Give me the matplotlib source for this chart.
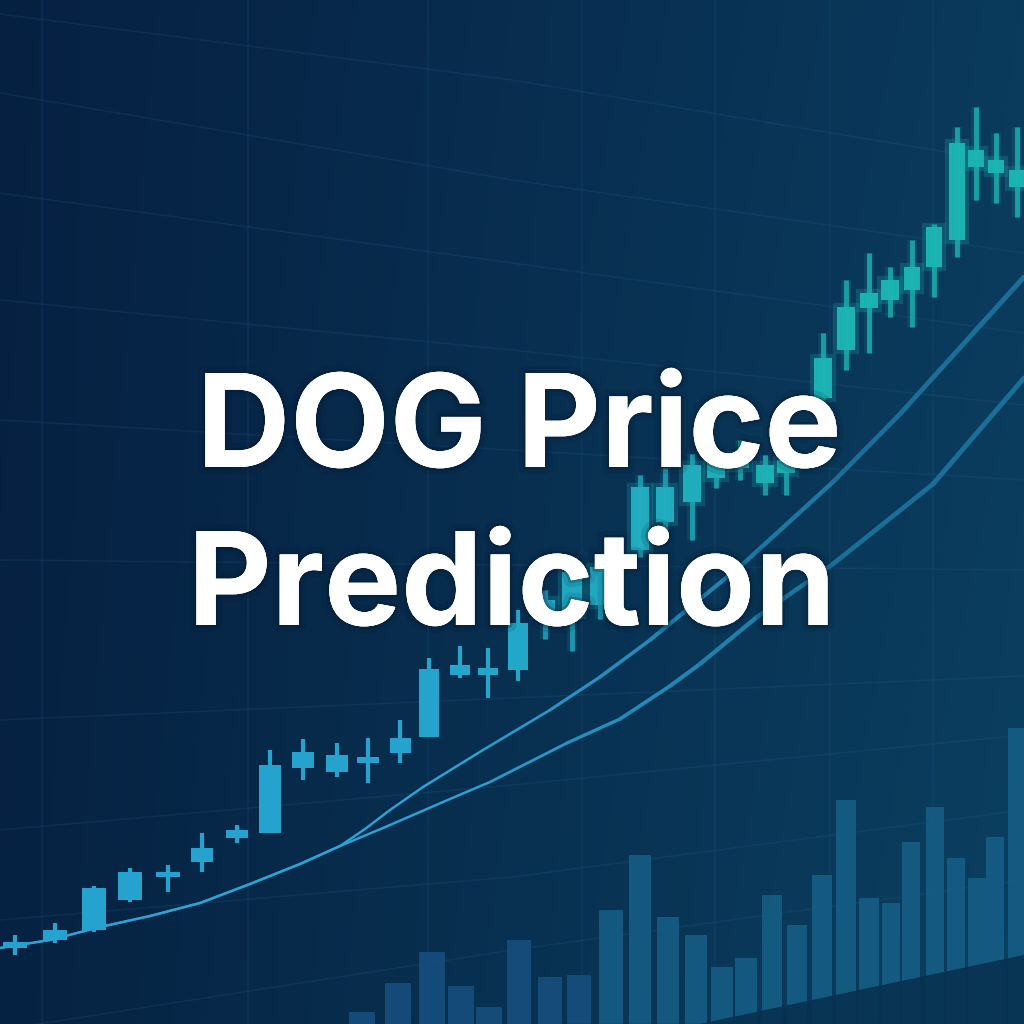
import numpy as np
import matplotlib
matplotlib.use("Agg")
import matplotlib.pyplot as plt
import matplotlib.patheffects as pe
from matplotlib.collections import LineCollection

# candle data: position (session), open, close, high, low (price)
cx = [15, 55, 94, 130, 168, 202, 237, 270, 303, 337, 368, 400, 429, 460, 488, 518,
      545, 572, 600, 640, 665, 692, 716, 740, 765, 786, 823, 846, 869, 890, 912, 934,
      957, 976, 996, 1017]
c_open = [0.76, 0.84, 0.94, 1.24, 1.47, 1.62, 1.86, 1.91, 2.56, 2.52, 2.61, 2.71, 2.87,
          3.49, 3.49, 3.54, 4.09, 4.09, 4.19, 4.74, 5.02, 5.22, 5.46, 5.56, 5.41, 5.51,
          6.26, 6.74, 7.16, 7.24, 7.34, 7.57, 7.84, 8.57, 8.51, 8.37]
c_close = [0.82, 0.94, 1.36, 1.52, 1.52, 1.76, 1.94, 2.59, 2.72, 2.69, 2.67, 2.86, 3.55,
           3.59, 3.56, 4.01, 4.24, 4.52, 4.57, 5.37, 5.37, 5.59, 5.64, 5.69, 5.59, 5.64,
           6.66, 7.17, 7.31, 7.44, 7.57, 7.97, 8.81, 8.74, 8.64, 8.54]
c_high = [0.89, 1.01, 1.38, 1.56, 1.59, 1.91, 1.99, 2.74, 2.85, 2.81, 2.86, 3.04, 3.66,
          3.78, 3.76, 4.14, 4.34, 4.62, 4.70, 5.49, 5.56, 5.70, 5.75, 5.84, 5.69, 5.74,
          6.91, 7.44, 7.71, 7.57, 7.84, 8.00, 8.97, 9.17, 8.91, 8.97]
c_low = [0.69, 0.81, 0.92, 1.22, 1.32, 1.52, 1.81, 1.91, 2.44, 2.47, 2.41, 2.61, 2.87,
         3.46, 3.26, 3.43, 3.85, 3.73, 4.05, 4.67, 4.94, 4.84, 5.36, 5.44, 5.29, 5.29,
         6.24, 6.54, 6.71, 7.07, 6.97, 7.27, 7.67, 8.24, 8.21, 8.07]

# moving averages
ma_fast_x = [0, 50, 100, 150, 200, 250, 300, 340, 365, 390, 423, 483, 550, 600, 650,
             743, 833, 900, 967, 1024]
ma_fast = [0.76, 0.84, 0.97, 1.08, 1.21, 1.40, 1.60, 1.78, 1.95, 2.14, 2.37, 2.74,
           3.14, 3.47, 3.84, 4.60, 5.42, 6.10, 6.84, 7.47]
ma_slow_x = [0, 50, 100, 150, 200, 250, 300, 340, 383, 450, 490, 567, 620, 670, 700,
             757, 833, 933, 1024]
ma_slow = [0.76, 0.84, 0.97, 1.08, 1.21, 1.40, 1.60, 1.78, 1.96, 2.25, 2.42, 2.81,
           3.05, 3.38, 3.60, 4.07, 4.60, 5.40, 6.46]

# volume
vx = [362, 398, 432, 461, 489, 519, 550, 579, 611, 640, 668, 696, 722, 746, 772, 797,
      822, 846, 869, 891, 911, 935, 956, 977, 995, 1016]
vol = [1.2, 4.1, 7.2, 3.8, 1.7, 8.4, 4.7, 4.9, 11.4, 16.9, 10.7, 8.9, 5.7, 6.6, 12.9,
       9.9, 14.9, 22.4, 12.6, 12.1, 18.2, 21.7, 16.6, 14.6, 18.7, 29.6]

# faint perspective grid
grid_vx = [42, 248, 428, 582, 715, 830, 933]
grid_h = [(-0.14, -0.8, -1.65), (-0.93, -1.80, -2.53), (-1.93, -2.63, -3.33),
          (-3.0, -3.5, -4.05), (-4.2, -4.5, -4.8), (-5.6, -5.65, -5.7),
          (-7.2, -6.98, -6.76), (-8.3, -7.85, -7.35), (-9.2, -8.77, -8.1),
          (-10.3, -9.5, -8.8)]

fig = plt.figure(figsize=(10.24, 10.24), dpi=100)
ax = fig.add_axes([0, 0, 1, 1])
ax.set_xlim(0, 1024)
ax.set_ylim(0, 10.24)
ax.axis('off')

# background gradient
tl = np.array([6, 32, 66]) / 255
tr = np.array([10, 58, 92]) / 255
bl = np.array([6, 34, 66]) / 255
br = np.array([11, 64, 96]) / 255
gx = np.linspace(0, 1, 256)[None, :, None]
gy = np.linspace(0, 1, 256)[:, None, None]
bg = (1 - gy) * ((1 - gx) * tl + gx * tr) + gy * ((1 - gx) * bl + gx * br)
ax.imshow(bg, extent=[0, 1024, 0, 10.24], aspect='auto', zorder=0)

# grid
for gxv in grid_vx:
    ax.axvline(gxv, color='#2d6a9c', alpha=0.15, lw=1.1, zorder=1)
for yl, ym, yr in grid_h:
    ax.plot([0, 512, 1024], [10.24 + yl, 10.24 + ym, 10.24 + yr],
            color='#2d6a9c', alpha=0.17, lw=1.1, zorder=1)

# volume bars (second axes sharing x)
axv = fig.add_axes([0, 0, 1, 1], sharex=ax)
axv.set_ylim(0, 102.4)
axv.axis('off')
axv.patch.set_alpha(0)
vw = np.interp(vx, [360, 1016], [27, 17])
vcol = ['#17507f' if x < 590 else '#165f87' for x in vx]
axv.bar(vx, vol, width=vw, color=vcol, alpha=0.85, zorder=2)
# dark floor in the lower right
axv.fill_between([560, 700, 1024], [0, 0, 0], [-1.5, 0, 6.9], color='#073150',
                 alpha=0.9, zorder=3)

# moving average lines
def ma_line(xs, ys):
    pts = np.column_stack([xs, ys])
    segs = np.stack([pts[:-1], pts[1:]], axis=1)
    mid = (pts[:-1, 0] + pts[1:, 0]) / 2
    lw = np.interp(mid, [0, 500, 700, 1024], [1.6, 1.8, 3.0, 3.6])
    c1 = np.array(matplotlib.colors.to_rgb('#2aa3d6'))
    c2 = np.array(matplotlib.colors.to_rgb('#1a6f98'))
    t = np.clip((mid - 450) / 400, 0, 1)[:, None]
    cols = (1 - t) * c1 + t * c2
    lc = LineCollection(segs, linewidths=lw, colors=cols, capstyle='round',
                        joinstyle='round', zorder=4)
    ax.add_collection(lc)

ma_line(ma_fast_x, ma_fast)
ma_line(ma_slow_x, ma_slow)

# candles
cx = np.array(cx)
bw = np.interp(cx, [0, 500, 1024], [25, 20, 16])
cols = []
for x in cx:
    t = np.clip((x - 400) / 450, 0, 1)
    c1 = np.array(matplotlib.colors.to_rgb('#26a2cf'))
    c2 = np.array(matplotlib.colors.to_rgb('#1cb5b3'))
    cols.append((1 - t) * c1 + t * c2)
c_open = np.array(c_open)
c_close = np.array(c_close)
sharp = cx < 540
blur = ~sharp
ax.vlines(cx[sharp], np.array(c_low)[sharp], np.array(c_high)[sharp],
          colors=[cols[i] for i in np.where(sharp)[0]], lw=3, zorder=5)
ax.bar(cx[sharp], (c_close - c_open)[sharp], bottom=c_open[sharp], width=bw[sharp],
       color=[cols[i] for i in np.where(sharp)[0]], zorder=5)
glow = [pe.withStroke(linewidth=6, foreground='#1aa9b0', alpha=0.25), pe.Normal()]
wl = ax.vlines(cx[blur], np.array(c_low)[blur], np.array(c_high)[blur],
               colors=[cols[i] for i in np.where(blur)[0]], lw=3.5, alpha=0.55, zorder=5)
wl.set_path_effects([pe.withStroke(linewidth=7, foreground='#1aa9b0', alpha=0.15),
                     pe.Normal()])
bb = ax.bar(cx[blur], (c_close - c_open)[blur], bottom=c_open[blur], width=bw[blur],
            color=[cols[i] for i in np.where(blur)[0]], alpha=0.85, zorder=5)
for p in bb:
    p.set_path_effects(glow)

# title
shadow = [pe.withStroke(linewidth=10, foreground='#03142b', alpha=0.12),
          pe.withStroke(linewidth=4, foreground='#03142b', alpha=0.25), pe.Normal()]
fig.text(0.507, 1 - 467 / 1024, 'DOG Price', ha='center', va='baseline',
         fontsize=93, fontweight='bold', family='Inter', color='white',
         path_effects=shadow, zorder=10)
fig.text(0.500, 1 - 625 / 1024, 'Prediction', ha='center', va='baseline',
         fontsize=93, fontweight='bold', family='Inter', color='white',
         path_effects=shadow, zorder=10)

fig.savefig('out.png', dpi=100)
